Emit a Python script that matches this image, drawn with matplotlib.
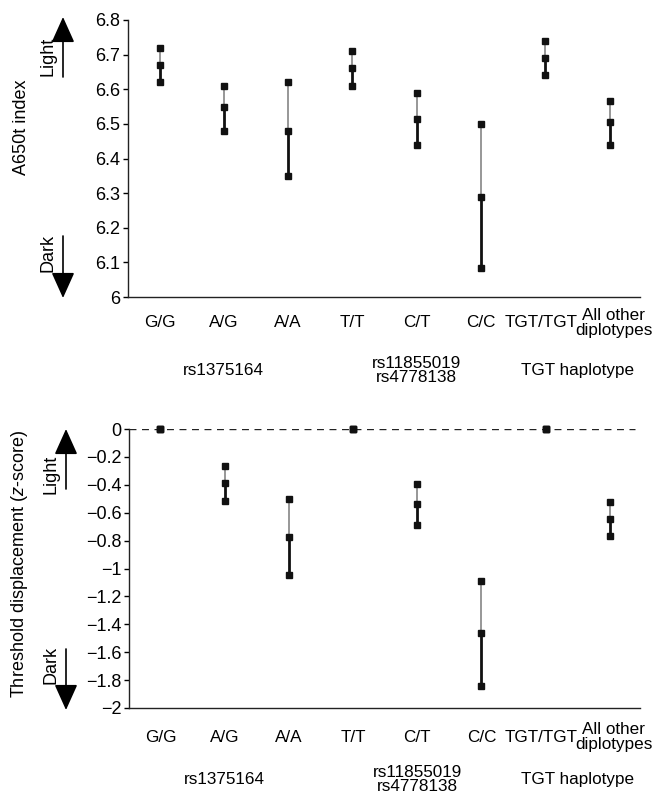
"""
A650t index and threshold displacement by genotype / diplotype
"""

import matplotlib
matplotlib.use('Agg')
import matplotlib.pyplot as plt
from matplotlib.ticker import FuncFormatter

plt.rcParams['font.family'] = ['Liberation Sans', 'DejaVu Sans']
plt.rcParams['mathtext.fontset'] = 'custom'
plt.rcParams['mathtext.rm'] = 'Liberation Sans'
plt.rcParams['mathtext.it'] = 'Liberation Sans:italic'

categories = ['G/G', 'A/G', 'A/A', 'T/T', 'C/T', 'C/C', 'TGT/TGT', 'All other\ndiplotypes']
groups = ['rs1375164', 'rs11855019\nrs4778138', 'TGT haplotype']
group_pos = [2, 5, 7.5]

# top panel: A650t index (mean with upper/lower bounds)
a650_upper = [6.72, 6.61, 6.62, 6.71, 6.59, 6.50, 6.74, 6.567]
a650_mean = [6.67, 6.55, 6.48, 6.66, 6.515, 6.29, 6.69, 6.505]
a650_lower = [6.62, 6.48, 6.35, 6.61, 6.44, 6.085, 6.64, 6.438]

# bottom panel: threshold displacement (z-score)
z_upper = [0, -0.265, -0.50, 0, -0.395, -1.09, 0, -0.525]
z_mean = [0, -0.385, -0.775, 0, -0.54, -1.465, 0, -0.645]
z_lower = [0, -0.515, -1.045, 0, -0.685, -1.845, 0, -0.77]

W, H = 662, 795
FS = 13
XFS = 12.3
# small horizontal nudges (pt) so the crowded right-hand labels don't collide
label_dx = [0, 0, 0, 0, 0, 0, -3, 3]


def draw_panel(ax, upper, mean, lower, ylim, yticks, label_off, group_off):
    x = list(range(1, len(categories) + 1))
    for xi, u, m, l in zip(x, upper, mean, lower):
        ax.plot([xi, xi], [m, u], color='#7a7a7a', lw=1.1, zorder=2)
        ax.plot([xi, xi], [l, m], color='#111111', lw=2.0, zorder=2)
        ax.plot([xi, xi, xi], [u, m, l], ls='none', marker='s', ms=3.8,
                color='#111111', zorder=3, clip_on=False)
    ax.set_xlim(0.51, 8.47)
    ax.set_ylim(*ylim)
    ax.set_yticks(yticks)
    ax.yaxis.set_major_formatter(FuncFormatter(lambda v, p: f'{v:g}'.replace('-', '\u2212')))
    ax.set_xticks([])
    for xi, cat, dx in zip(x, categories, label_dx):
        ax.annotate(cat, xy=(xi, 0), xycoords=('data', 'axes fraction'),
                    xytext=(dx, -label_off), textcoords='offset points',
                    ha='center', va='center', fontsize=XFS, linespacing=1.0,
                    annotation_clip=False)
    ax.tick_params(axis='y', length=3.5, width=1, direction='out', labelsize=FS, pad=2)
    for s in ['top', 'right']:
        ax.spines[s].set_visible(False)
    for s in ['left', 'bottom']:
        ax.spines[s].set_linewidth(1.0)
        ax.spines[s].set_color('#222222')
    for g, gx in zip(groups, group_pos):
        ax.annotate(g, xy=(gx, 0), xycoords=('data', 'axes fraction'),
                    xytext=(0, -group_off), textcoords='offset points',
                    ha='center', va='center', fontsize=XFS, linespacing=0.95,
                    annotation_clip=False)


def arrow(fig, x, y0, y1):
    fig.add_artist(plt.Annotation(
        '', xy=(x, H - y1), xytext=(x, H - y0), xycoords='figure pixels',
        textcoords='figure pixels',
        arrowprops=dict(arrowstyle='-|>,head_length=0.8,head_width=0.36',
                        mutation_scale=20, color='black', lw=1.2,
                        shrinkA=0, shrinkB=0)))


def side_labels(fig, xt, xa, light, dark):
    fig.text(xt / W, 1 - light[0] / H, 'Light', rotation=90, ha='center', va='center', fontsize=FS)
    arrow(fig, xa, light[1], light[2])
    fig.text(xt / W, 1 - dark[0] / H, 'Dark', rotation=90, ha='center', va='center', fontsize=FS)
    arrow(fig, xa, dark[1], dark[2])


fig = plt.figure(figsize=(W / 100, H / 100), dpi=100)

# top panel: y 6.8 at 20px, 6.0 at 297px
ax1 = fig.add_axes([128 / W, 1 - 297 / H, 512 / W, 277 / H])
draw_panel(ax1, a650_upper, a650_mean, a650_lower, (6.0, 6.8),
           [6.0, 6.1, 6.2, 6.3, 6.4, 6.5, 6.6, 6.7, 6.8], 18.5, 53)
fig.text(22 / W, 1 - 127 / H, 'A650t index', rotation=90, ha='center', va='center', fontsize=FS)
side_labels(fig, 48, 63, (56, 77, 17), (253, 236, 298))

# bottom panel: y 0 at 429px, -2 at 708px
ax2 = fig.add_axes([129 / W, 1 - 708 / H, 511 / W, 279 / H])
ax2.axhline(0, color='#222222', lw=1.0, dashes=(5, 4), xmax=0.99, zorder=1)
draw_panel(ax2, z_upper, z_mean, z_lower, (-2.0, 0.0),
           [-2.0, -1.8, -1.6, -1.4, -1.2, -1.0, -0.8, -0.6, -0.4, -0.2, 0.0], 21, 51.5)
fig.text(20 / W, 1 - 564 / H, r'Threshold displacement ($\it{z}$-score)', rotation=90,
         ha='center', va='center', fontsize=FS)
side_labels(fig, 51, 66, (474, 489, 429), (665, 649, 710))

fig.savefig('out.png', dpi=100)
